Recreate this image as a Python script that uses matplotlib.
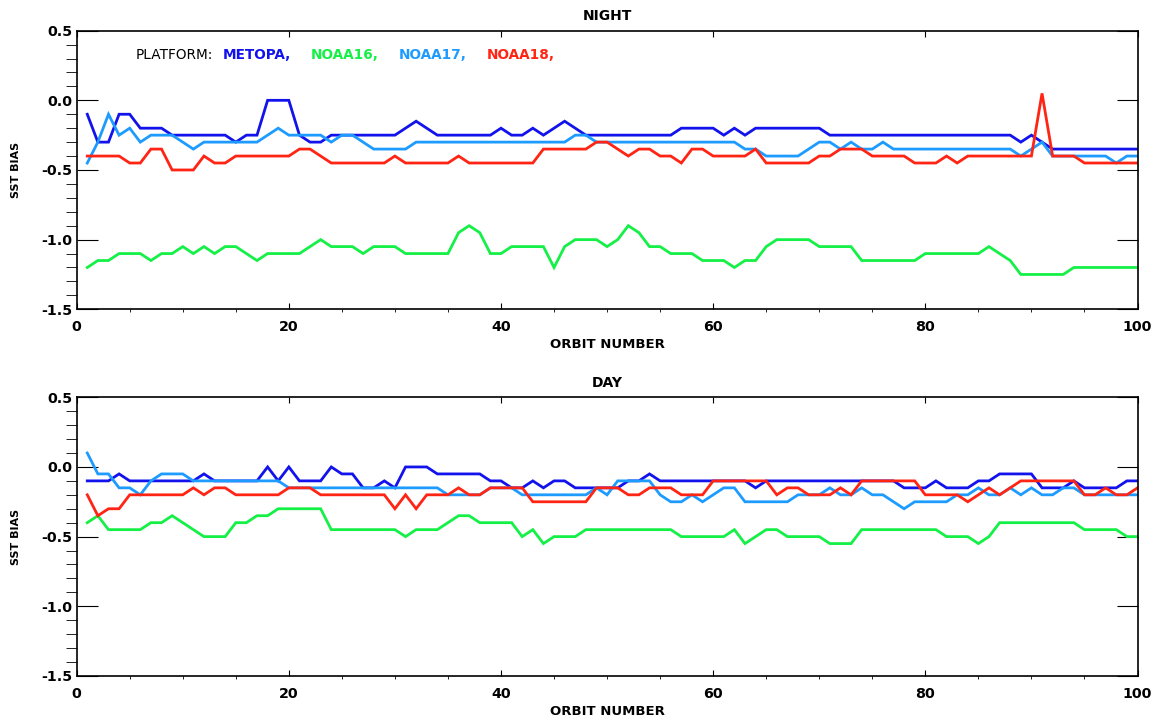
#!/usr/bin/env python3
"""SST bias per orbit for the four AVHRR platforms, night and day panels."""
import numpy as np
import matplotlib
matplotlib.use("Agg")
import matplotlib.pyplot as plt
from matplotlib import font_manager
from matplotlib.ticker import MultipleLocator

orbit = np.arange(1, 101)

platforms = ["METOPA,", "NOAA16,", "NOAA17,", "NOAA18,"]
colors = ["#1212ec", "#14f046", "#1e9bff", "#ff2414"]

night_metopa = [
    -0.1, -0.3, -0.3, -0.1, -0.1, -0.2, -0.2, -0.2, -0.25, -0.25,
    -0.25, -0.25, -0.25, -0.25, -0.3, -0.25, -0.25, 0.0, 0.0, 0.0,
    -0.25, -0.3, -0.3, -0.25, -0.25, -0.25, -0.25, -0.25, -0.25, -0.25,
    -0.2, -0.15, -0.2, -0.25, -0.25, -0.25, -0.25, -0.25, -0.25, -0.2,
    -0.25, -0.25, -0.2, -0.25, -0.2, -0.15, -0.2, -0.25, -0.25, -0.25,
    -0.25, -0.25, -0.25, -0.25, -0.25, -0.25, -0.2, -0.2, -0.2, -0.2,
    -0.25, -0.2, -0.25, -0.2, -0.2, -0.2, -0.2, -0.2, -0.2, -0.2,
    -0.25, -0.25, -0.25, -0.25, -0.25, -0.25, -0.25, -0.25, -0.25, -0.25,
    -0.25, -0.25, -0.25, -0.25, -0.25, -0.25, -0.25, -0.25, -0.3, -0.25,
    -0.3, -0.35, -0.35, -0.35, -0.35, -0.35, -0.35, -0.35, -0.35, -0.35,
]
night_noaa16 = [
    -1.2, -1.15, -1.15, -1.1, -1.1, -1.1, -1.15, -1.1, -1.1, -1.05,
    -1.1, -1.05, -1.1, -1.05, -1.05, -1.1, -1.15, -1.1, -1.1, -1.1,
    -1.1, -1.05, -1.0, -1.05, -1.05, -1.05, -1.1, -1.05, -1.05, -1.05,
    -1.1, -1.1, -1.1, -1.1, -1.1, -0.95, -0.9, -0.95, -1.1, -1.1,
    -1.05, -1.05, -1.05, -1.05, -1.2, -1.05, -1.0, -1.0, -1.0, -1.05,
    -1.0, -0.9, -0.95, -1.05, -1.05, -1.1, -1.1, -1.1, -1.15, -1.15,
    -1.15, -1.2, -1.15, -1.15, -1.05, -1.0, -1.0, -1.0, -1.0, -1.05,
    -1.05, -1.05, -1.05, -1.15, -1.15, -1.15, -1.15, -1.15, -1.15, -1.1,
    -1.1, -1.1, -1.1, -1.1, -1.1, -1.05, -1.1, -1.15, -1.25, -1.25,
    -1.25, -1.25, -1.25, -1.2, -1.2, -1.2, -1.2, -1.2, -1.2, -1.2,
]
night_noaa17 = [
    -0.45, -0.3, -0.1, -0.25, -0.2, -0.3, -0.25, -0.25, -0.25, -0.3,
    -0.35, -0.3, -0.3, -0.3, -0.3, -0.3, -0.3, -0.25, -0.2, -0.25,
    -0.25, -0.25, -0.25, -0.3, -0.25, -0.25, -0.3, -0.35, -0.35, -0.35,
    -0.35, -0.3, -0.3, -0.3, -0.3, -0.3, -0.3, -0.3, -0.3, -0.3,
    -0.3, -0.3, -0.3, -0.3, -0.3, -0.3, -0.25, -0.25, -0.3, -0.3,
    -0.3, -0.3, -0.3, -0.3, -0.3, -0.3, -0.3, -0.3, -0.3, -0.3,
    -0.3, -0.3, -0.35, -0.35, -0.4, -0.4, -0.4, -0.4, -0.35, -0.3,
    -0.3, -0.35, -0.3, -0.35, -0.35, -0.3, -0.35, -0.35, -0.35, -0.35,
    -0.35, -0.35, -0.35, -0.35, -0.35, -0.35, -0.35, -0.35, -0.4, -0.35,
    -0.3, -0.4, -0.4, -0.4, -0.4, -0.4, -0.4, -0.45, -0.4, -0.4,
]
night_noaa18 = [
    -0.4, -0.4, -0.4, -0.4, -0.45, -0.45, -0.35, -0.35, -0.5, -0.5,
    -0.5, -0.4, -0.45, -0.45, -0.4, -0.4, -0.4, -0.4, -0.4, -0.4,
    -0.35, -0.35, -0.4, -0.45, -0.45, -0.45, -0.45, -0.45, -0.45, -0.4,
    -0.45, -0.45, -0.45, -0.45, -0.45, -0.4, -0.45, -0.45, -0.45, -0.45,
    -0.45, -0.45, -0.45, -0.35, -0.35, -0.35, -0.35, -0.35, -0.3, -0.3,
    -0.35, -0.4, -0.35, -0.35, -0.4, -0.4, -0.45, -0.35, -0.35, -0.4,
    -0.4, -0.4, -0.4, -0.35, -0.45, -0.45, -0.45, -0.45, -0.45, -0.4,
    -0.4, -0.35, -0.35, -0.35, -0.4, -0.4, -0.4, -0.4, -0.45, -0.45,
    -0.45, -0.4, -0.45, -0.4, -0.4, -0.4, -0.4, -0.4, -0.4, -0.4,
    0.05, -0.4, -0.4, -0.4, -0.45, -0.45, -0.45, -0.45, -0.45, -0.45,
]

day_metopa = [
    -0.1, -0.1, -0.1, -0.05, -0.1, -0.1, -0.1, -0.1, -0.1, -0.1,
    -0.1, -0.05, -0.1, -0.1, -0.1, -0.1, -0.1, 0.0, -0.1, 0.0,
    -0.1, -0.1, -0.1, 0.0, -0.05, -0.05, -0.15, -0.15, -0.1, -0.15,
    0.0, 0.0, 0.0, -0.05, -0.05, -0.05, -0.05, -0.05, -0.1, -0.1,
    -0.15, -0.15, -0.1, -0.15, -0.1, -0.1, -0.15, -0.15, -0.15, -0.15,
    -0.15, -0.1, -0.1, -0.05, -0.1, -0.1, -0.1, -0.1, -0.1, -0.1,
    -0.1, -0.1, -0.1, -0.15, -0.1, -0.1, -0.1, -0.1, -0.1, -0.1,
    -0.1, -0.1, -0.1, -0.1, -0.1, -0.1, -0.1, -0.15, -0.15, -0.15,
    -0.1, -0.15, -0.15, -0.15, -0.1, -0.1, -0.05, -0.05, -0.05, -0.05,
    -0.15, -0.15, -0.15, -0.1, -0.15, -0.15, -0.15, -0.15, -0.1, -0.1,
]
day_noaa16 = [
    -0.4, -0.35, -0.45, -0.45, -0.45, -0.45, -0.4, -0.4, -0.35, -0.4,
    -0.45, -0.5, -0.5, -0.5, -0.4, -0.4, -0.35, -0.35, -0.3, -0.3,
    -0.3, -0.3, -0.3, -0.45, -0.45, -0.45, -0.45, -0.45, -0.45, -0.45,
    -0.5, -0.45, -0.45, -0.45, -0.4, -0.35, -0.35, -0.4, -0.4, -0.4,
    -0.4, -0.5, -0.45, -0.55, -0.5, -0.5, -0.5, -0.45, -0.45, -0.45,
    -0.45, -0.45, -0.45, -0.45, -0.45, -0.45, -0.5, -0.5, -0.5, -0.5,
    -0.5, -0.45, -0.55, -0.5, -0.45, -0.45, -0.5, -0.5, -0.5, -0.5,
    -0.55, -0.55, -0.55, -0.45, -0.45, -0.45, -0.45, -0.45, -0.45, -0.45,
    -0.45, -0.5, -0.5, -0.5, -0.55, -0.5, -0.4, -0.4, -0.4, -0.4,
    -0.4, -0.4, -0.4, -0.4, -0.45, -0.45, -0.45, -0.45, -0.5, -0.5,
]
day_noaa17 = [
    0.1, -0.05, -0.05, -0.15, -0.15, -0.2, -0.1, -0.05, -0.05, -0.05,
    -0.1, -0.1, -0.1, -0.1, -0.1, -0.1, -0.1, -0.1, -0.1, -0.15,
    -0.15, -0.15, -0.15, -0.15, -0.15, -0.15, -0.15, -0.15, -0.15, -0.15,
    -0.15, -0.15, -0.15, -0.15, -0.2, -0.2, -0.2, -0.2, -0.15, -0.15,
    -0.15, -0.2, -0.2, -0.2, -0.2, -0.2, -0.2, -0.2, -0.15, -0.2,
    -0.1, -0.1, -0.1, -0.1, -0.2, -0.25, -0.25, -0.2, -0.25, -0.2,
    -0.15, -0.15, -0.25, -0.25, -0.25, -0.25, -0.25, -0.2, -0.2, -0.2,
    -0.15, -0.2, -0.2, -0.15, -0.2, -0.2, -0.25, -0.3, -0.25, -0.25,
    -0.25, -0.25, -0.2, -0.2, -0.15, -0.2, -0.2, -0.15, -0.2, -0.15,
    -0.2, -0.2, -0.15, -0.15, -0.2, -0.2, -0.2, -0.2, -0.2, -0.2,
]
day_noaa18 = [
    -0.2, -0.35, -0.3, -0.3, -0.2, -0.2, -0.2, -0.2, -0.2, -0.2,
    -0.15, -0.2, -0.15, -0.15, -0.2, -0.2, -0.2, -0.2, -0.2, -0.15,
    -0.15, -0.15, -0.2, -0.2, -0.2, -0.2, -0.2, -0.2, -0.2, -0.3,
    -0.2, -0.3, -0.2, -0.2, -0.2, -0.15, -0.2, -0.2, -0.15, -0.15,
    -0.15, -0.15, -0.25, -0.25, -0.25, -0.25, -0.25, -0.25, -0.15, -0.15,
    -0.15, -0.2, -0.2, -0.15, -0.15, -0.15, -0.2, -0.2, -0.2, -0.1,
    -0.1, -0.1, -0.1, -0.1, -0.1, -0.2, -0.15, -0.15, -0.2, -0.2,
    -0.2, -0.15, -0.2, -0.1, -0.1, -0.1, -0.1, -0.1, -0.1, -0.2,
    -0.2, -0.2, -0.2, -0.25, -0.2, -0.15, -0.2, -0.15, -0.1, -0.1,
    -0.1, -0.1, -0.1, -0.1, -0.2, -0.2, -0.15, -0.2, -0.2, -0.15,
]

night = [night_metopa, night_noaa16, night_noaa17, night_noaa18]
day = [day_metopa, day_noaa16, day_noaa17, day_noaa18]

plt.rcParams["axes.unicode_minus"] = False
BOLD = dict(family="DejaVu Sans", weight="bold")

# narrow face for the platform key if it is there
installed = {f.name for f in font_manager.fontManager.ttflist}
if "Liberation Sans Narrow" in installed:
    KEY_FONT, KEY_SIZE = "Liberation Sans Narrow", 11.8
else:
    KEY_FONT, KEY_SIZE = "DejaVu Sans", 9.8


def panel(ax, series, title):
    for vals, col in zip(series, colors):
        ax.plot(orbit, vals, color=col, lw=2.0, solid_joinstyle="miter")
    ax.set_xlim(0, 100)
    ax.set_ylim(-1.5, 0.5)
    ax.xaxis.set_major_locator(MultipleLocator(20))
    ax.xaxis.set_minor_locator(MultipleLocator(5))
    ax.yaxis.set_major_locator(MultipleLocator(0.5))
    ax.yaxis.set_minor_locator(MultipleLocator(0.1))
    ax.yaxis.set_major_formatter(lambda v, p: f"{v:.1f}")
    ax.tick_params(direction="in", top=True, right=True, width=0.8,
                   color="black")
    ax.tick_params(axis="x", which="major", length=4.3, pad=8)
    ax.tick_params(axis="x", which="minor", length=2.0)
    ax.tick_params(axis="y", which="major", length=15, pad=3)
    ax.tick_params(axis="y", which="minor", length=7.6)
    for lab in ax.get_xticklabels() + ax.get_yticklabels():
        lab.set_fontfamily("DejaVu Sans")
        lab.set_fontweight("bold")
        lab.set_fontsize(10.3)
    for sp in ax.spines.values():
        sp.set_linewidth(1.2)
    ax.set_xlabel("ORBIT NUMBER", fontsize=9.5, **BOLD)
    ax.xaxis.set_label_coords(0.5, -0.128)
    ax.xaxis.label.set_verticalalignment("center")
    ax.set_ylabel("SST BIAS", fontsize=8, **BOLD)
    ax.yaxis.set_label_coords(-0.057, 0.5)
    ax.yaxis.label.set_verticalalignment("center")
    ax.text(0.5, 1.053, title, transform=ax.transAxes, ha="center",
            va="center", fontsize=10, **BOLD)


fig = plt.figure(figsize=(11.58, 7.25), dpi=100)
ax_n = fig.add_axes([0.0662, 0.5734, 0.9161, 0.3843])
ax_d = fig.add_axes([0.0662, 0.0677, 0.9161, 0.3843])
panel(ax_n, night, "NIGHT")
panel(ax_d, day, "DAY")

# platform key, top left of the night panel
ax_n.text(0.0559, 0.913, "PLATFORM:", transform=ax_n.transAxes,
          ha="left", va="center", family=KEY_FONT, fontsize=KEY_SIZE)
for name, col, x in zip(platforms, colors, [0.1379, 0.2208, 0.3038, 0.3867]):
    ax_n.text(x, 0.913, name, transform=ax_n.transAxes, ha="left",
              va="center", color=col, family=KEY_FONT, fontsize=KEY_SIZE,
              weight="bold")

fig.savefig("out.png", dpi=100)
